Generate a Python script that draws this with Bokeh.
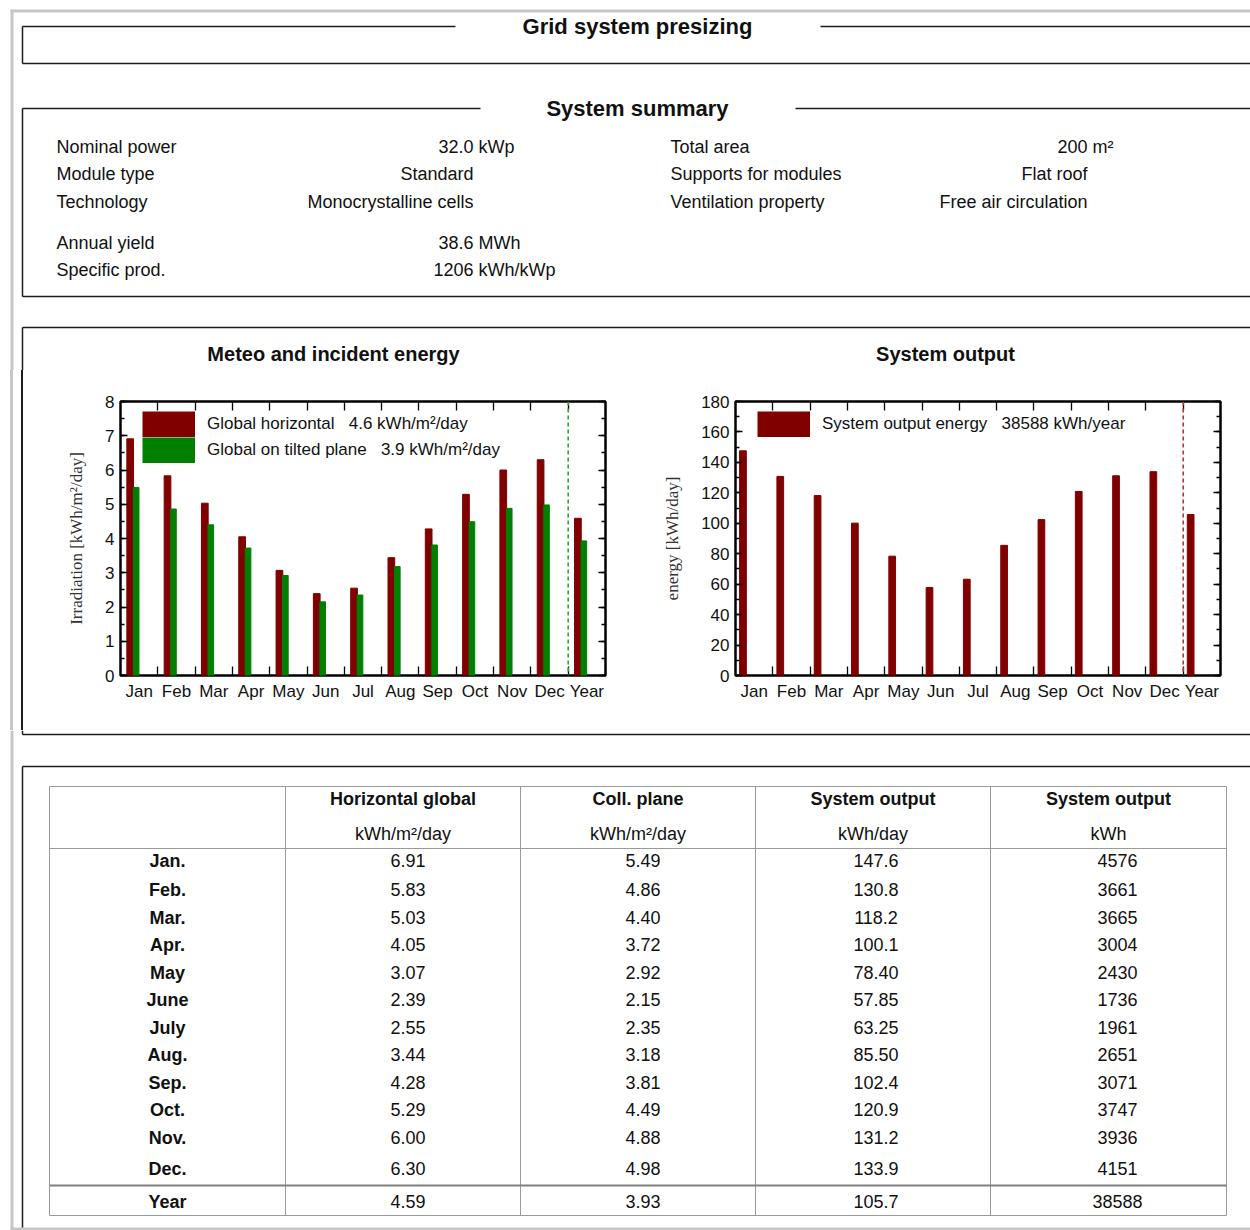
import numpy as np
from bokeh.plotting import figure
from bokeh.models import (Range1d, LinearAxis, FixedTicker, SingleIntervalTicker,
                          Span, Legend, LegendItem, ColumnDataSource, Div)
from bokeh.layouts import column, row
from bokeh.core.properties import value
from bokeh.embed import file_html
from bokeh.resources import INLINE

# ---------------- data ----------------
months = ["Jan", "Feb", "Mar", "Apr", "May", "Jun", "Jul", "Aug", "Sep", "Oct", "Nov", "Dec", "Year"]
row_labels = ["Jan.", "Feb.", "Mar.", "Apr.", "May", "June", "July", "Aug.", "Sep.", "Oct.", "Nov.", "Dec.", "Year"]
glob_hor = [6.91, 5.83, 5.03, 4.05, 3.07, 2.39, 2.55, 3.44, 4.28, 5.29, 6.00, 6.30, 4.59]
coll_plane = [5.49, 4.86, 4.40, 3.72, 2.92, 2.15, 2.35, 3.18, 3.81, 4.49, 4.88, 4.98, 3.93]
out_day = [147.6, 130.8, 118.2, 100.1, 78.40, 57.85, 63.25, 85.50, 102.4, 120.9, 131.2, 133.9, 105.7]
out_kwh = [4576, 3661, 3665, 3004, 2430, 1736, 1961, 2651, 3071, 3747, 3936, 4151, 38588]

summary_left_labels = ["Nominal power", "Module type", "Technology", "Annual yield", "Specific prod."]
summary_left_values = ["32.0", "Standard", "Monocrystalline cells", "38.6", "1206"]
summary_left_units = ["kWp", "", "", "MWh", "kWh/kWp"]
summary_right_labels = ["Total area", "Supports for modules", "Ventilation property"]
summary_right_values = ["200", "Flat roof", "Free air circulation"]
summary_right_units = ["m\u00b2", "", ""]

chart_titles = ["Meteo and incident energy", "System output"]
legend_left = ["Global horizontal", "4.6 kWh/m\u00b2/day", "Global on tilted plane", "3.9 kWh/m\u00b2/day"]
legend_right = ["System output energy", "38588 kWh/year"]

table_heads = ["Horizontal global", "Coll. plane", "System output", "System output"]
table_units = ["kWh/m\u00b2/day", "kWh/m\u00b2/day", "kWh/day", "kWh"]

SANS = "Liberation Sans"
SERIF = "Liberation Serif"
DARK = "#1c1c1c"
GRAY = "#c6c6c6"
RED = "#800000"
GREEN = "#008000"
SP = "\u00a0\u00a0 "


def page_fig(w, h, x0, x1, y0, y1):
    p = figure(width=w, height=h, x_range=Range1d(x0, x1), y_range=Range1d(y1, y0),
               x_axis_location=None, y_axis_location=None, toolbar_location=None,
               output_backend="svg", min_border=0, outline_line_color=None,
               background_fill_color="white", border_fill_color="white")
    p.grid.visible = False
    return p


def segs(p, xs0, ys0, xs1, ys1, color, width):
    p.segment(x0=xs0, y0=ys0, x1=xs1, y1=ys1, line_color=color, line_width=width)


def txt(p, xs, ys, texts, size="18px", align="left", bold=False, color="#111111"):
    p.text(x=xs, y=ys, text=texts, text_font=value(SANS), text_font_size=size,
           text_align=align, text_baseline="middle", text_color=color,
           text_font_style="bold" if bold else "normal")


# ---------------- header (incl. chart titles) ----------------
ph = page_fig(1250, 370, 0, 1250, 0, 370)
segs(ph, [10], [10.5], [1250], [10.5], GRAY, 3)
segs(ph, [11.5], [9], [11.5], [370], GRAY, 3)
segs(ph,
     [22, 820, 22, 22, 22, 795, 22, 22, 22, 22],
     [26, 26, 26, 63, 108, 108, 108, 296, 327, 327],
     [455, 1250, 22, 1250, 480, 1250, 22, 1250, 1250, 22],
     [26, 26, 63, 63, 108, 108, 296, 296, 327, 370], DARK, 1.5)
txt(ph, [637], [26], ["Grid system presizing"], size="22px", align="center", bold=True)
txt(ph, [637], [108], ["System summary"], size="22px", align="center", bold=True)
ly = [146, 173, 201, 242, 269]
ry = [146, 173, 201]
txt(ph, [56] * 5, ly, summary_left_labels)
txt(ph, [473] * 5, ly, summary_left_values, align="right")
txt(ph, [478] * 5, ly, summary_left_units)
txt(ph, [670] * 3, ry, summary_right_labels)
txt(ph, [1087] * 3, ry, summary_right_values, align="right")
txt(ph, [1092] * 3, ry, summary_right_units)
txt(ph, [333, 945], [353, 353], chart_titles, size="20px", align="center", bold=True)

# ---------------- left strip (page border + section frame) ----------------
strip = Div(text="", width=30, height=360, margin=0,
            styles={"background": "linear-gradient(to right, #ffffff 0px, #ffffff 10px, "
                                  "#c6c6c6 10px, #c6c6c6 13px, #ffffff 13px, #ffffff 21.5px, "
                                  "#1c1c1c 21.5px, #1c1c1c 23px, #ffffff 23px, #ffffff 30px)"})


# ---------------- charts ----------------
def chart(ymax, yint, ylabel, mb_left, mb_right, span_color):
    p = figure(width=610, height=360, x_range=Range1d(-0.5, 12.5), y_range=Range1d(0, ymax),
               x_axis_location=None, y_axis_location=None, toolbar_location=None,
               output_backend="svg", min_border_top=31, min_border_bottom=55,
               min_border_left=mb_left, min_border_right=mb_right,
               outline_line_color="black", outline_line_width=2.5,
               background_fill_color="white", border_fill_color="white")
    p.grid.visible = False
    xt = FixedTicker(ticks=list(range(len(months))),
                     minor_ticks=[i + 0.5 for i in range(len(months) - 1)])
    xb = LinearAxis(ticker=xt, major_label_overrides={i: m for i, m in enumerate(months)})
    xa = LinearAxis(ticker=xt)
    yt = SingleIntervalTicker(interval=yint, num_minor_ticks=2)
    yl = LinearAxis(ticker=yt, axis_label=ylabel)
    yr = LinearAxis(ticker=yt)
    for ax in (xb, xa):
        ax.major_tick_in = 0
        ax.major_tick_out = 0
        ax.minor_tick_in = 9
        ax.minor_tick_out = 0
    for ax in (yl, yr):
        ax.major_tick_in = 7
        ax.major_tick_out = 0
        ax.minor_tick_in = 4
        ax.minor_tick_out = 0
    for ax in (xb, xa, yl, yr):
        ax.axis_line_color = None
        ax.major_tick_line_color = "black"
        ax.minor_tick_line_color = "black"
        ax.major_tick_line_width = 1.3
        ax.minor_tick_line_width = 1.3
        ax.major_label_text_font = SANS
        ax.major_label_text_font_size = "17px"
        ax.major_label_text_color = "#111111"
    for ax in (xa, yr):
        ax.major_label_text_color = None
        ax.major_label_text_font_size = "1px"
        ax.major_label_standoff = 0
    xb.major_label_standoff = 6
    yl.major_label_standoff = 6
    yl.axis_label_text_font = SERIF
    yl.axis_label_text_font_size = "17px"
    yl.axis_label_text_font_style = "normal"
    yl.axis_label_text_color = "#333333"
    yl.axis_label_standoff = 16
    p.add_layout(xb, "below")
    p.add_layout(xa, "above")
    p.add_layout(yl, "left")
    p.add_layout(yr, "right")
    p.add_layout(Span(location=len(months) - 1.5, dimension="height", line_color=span_color,
                      line_dash="4 3", line_width=1.6))
    return p


def make_legend(items, vy):
    return Legend(items=items, location=(22, vy), glyph_width=53, glyph_height=26, spacing=0,
                  padding=0, margin=0, label_standoff=12, label_height=26,
                  border_line_color=None, background_fill_alpha=0,
                  label_text_font=SANS, label_text_font_size="17px", label_text_color="#111111")


def legend_key(p, color):
    # a line renderer with no visible points, used only as a solid legend swatch
    return p.line(x=[np.nan], y=[np.nan], line_color=color, line_width=26, line_cap="butt")


idx = np.arange(len(months))

pl = chart(8, 1, "Irradiation [kWh/m\u00b2/day]", 90, 35, "#2fa82f")
src_l = ColumnDataSource(dict(xh=idx - 0.24, xc=idx - 0.08, gh=glob_hor, cp=coll_plane))
pl.vbar(x="xh", top="gh", width=0.18, source=src_l, fill_color=RED, line_color=RED)
pl.vbar(x="xc", top="cp", width=0.15, source=src_l, fill_color=GREEN, line_color=GREEN)
k_gh = legend_key(pl, RED)
k_cp = legend_key(pl, GREEN)
pl.add_layout(make_legend([
    LegendItem(label=legend_left[0] + SP + legend_left[1], renderers=[k_gh]),
    LegendItem(label=legend_left[2] + SP + legend_left[3], renderers=[k_cp])], 212))

pr = chart(180, 20, "energy [kWh/day]", 95, 30, "#c83030")
src_r = ColumnDataSource(dict(xo=idx - 0.3, od=out_day))
pr.vbar(x="xo", top="od", width=0.18, source=src_r, fill_color=RED, line_color=RED)
k_od = legend_key(pr, RED)
pr.add_layout(make_legend([
    LegendItem(label=legend_right[0] + SP + legend_right[1], renderers=[k_od])], 238))

# ---------------- table ----------------
pt = page_fig(1250, 500, 0, 1250, 730, 1230)
segs(pt, [11.5, 10], [730, 1228.5], [11.5, 1250], [1230, 1228.5], GRAY, 3)
segs(pt, [22, 22, 22, 22], [734, 730, 766, 766], [1250, 22, 1250, 22], [734, 734, 766, 1227], DARK, 1.5)
col_edges = [49, 285, 520, 755, 990, 1226]
segs(pt, col_edges, [786] * 6, col_edges, [1215] * 6, "#9a9a9a", 1)
segs(pt, [49, 49, 49], [786, 848, 1215], [1226, 1226, 1226], [786, 848, 1215], "#9a9a9a", 1)
segs(pt, [49], [1185], [1226], [1185], "#808080", 2)

col_centers = [(col_edges[i] + col_edges[i + 1]) / 2 for i in range(5)]
txt(pt, col_centers[1:], [798] * 4, table_heads, align="center", bold=True)
txt(pt, col_centers[1:], [833] * 4, table_units, align="center")

row_y = [860, 889, 917, 944, 972, 999, 1027, 1054, 1082, 1109, 1137, 1168, 1201]


def fmt_out(v):
    return f"{v:.1f}" if v >= 100 else f"{v:.2f}"


txt(pt, [col_centers[0]] * 13, row_y, row_labels, align="center", bold=True)
txt(pt, [col_centers[1] + 5] * 13, row_y, [f"{v:.2f}" for v in glob_hor], align="center")
txt(pt, [col_centers[2] + 5] * 13, row_y, [f"{v:.2f}" for v in coll_plane], align="center")
txt(pt, [col_centers[3] + 3] * 13, row_y, [fmt_out(v) for v in out_day], align="center")
txt(pt, [col_centers[4] + 9] * 13, row_y, [str(v) for v in out_kwh], align="center")

layout = column(ph, row(strip, pl, pr), pt)

open("out.html", "w").write(file_html(layout, INLINE))
